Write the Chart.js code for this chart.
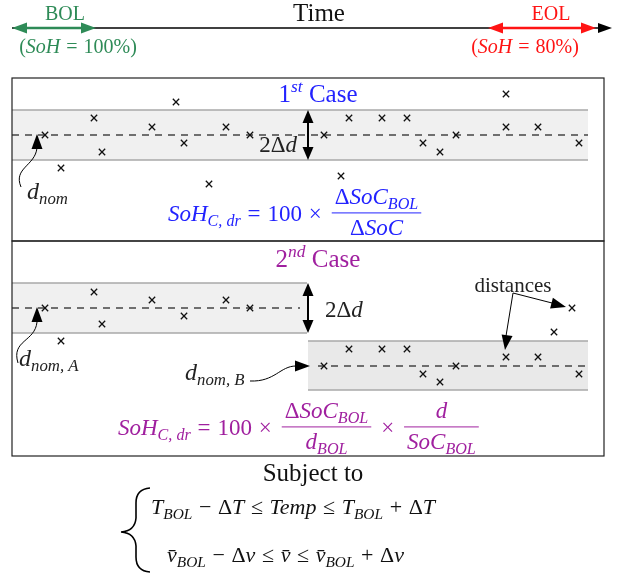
<!DOCTYPE html>
<html>
<head>
<meta charset="utf-8">
<script src="https://cdn.jsdelivr.net/npm/chart.js@4.4.1/dist/chart.umd.min.js"></script>
<style>
  html, body { margin: 0; padding: 0; background: #fff; }
  canvas { display: block; }
</style>
</head>
<body>
<canvas id="diagram" width="622" height="576"></canvas>
<script>
// measured samples (x = time position, y = distance), drawing units
const case1X = [176, 94, 152, 226, 45, 250, 184, 102, 61, 209, 506, 349, 382, 407, 506, 538, 324, 456, 423, 579, 440, 341];
const case1Y = [102, 118, 127, 127, 135, 135, 143, 152, 168, 184, 94, 118, 118, 118, 127, 127, 135, 135, 143, 143, 152, 176];
const case2AX = [94, 152, 226, 45, 250, 184, 102, 61];
const case2AY = [292, 300, 300, 308, 308, 316, 324, 341];
const case2BX = [349, 382, 407, 506, 538, 324, 456, 423, 579, 440, 572, 554];
const case2BY = [349, 349, 349, 357, 357, 366, 366, 374, 374, 382, 308, 332];

const BLUE = '#2323ff';
const PURPLE = '#a0209f';
const GREEN = '#2e8b57';
const RED = '#ff1414';
const SERIF = '"Liberation Serif", "DejaVu Serif", serif';

function pts(xs, ys) { return xs.map((x, i) => ({ x: x, y: ys[i] })); }

// --- small text helpers: segs = [[text, code]], code r/i/b(sub italic)/p(sup italic)/g(gap in em)
function segFont(c, size) {
  const it = c === 'i' || c === 'b' || c === 'p';
  const sz = (c === 'b' || c === 'p') ? size * 0.7 : size;
  return (it ? 'italic ' : '') + sz.toFixed(1) + 'px ' + SERIF;
}
function segDy(c, size) { return c === 'b' ? size * 0.22 : c === 'p' ? -size * 0.4 : 0; }
function segW(ctx, t, c, size) {
  if (c === 'g') return parseFloat(t) * size;
  ctx.font = segFont(c, size);
  return ctx.measureText(t).width;
}
function rowWidth(ctx, segs, size) {
  let w = 0;
  for (const [t, c] of segs) w += segW(ctx, t, c, size);
  return w;
}
function drawRow(ctx, segs, x, y, size, color, align) {
  const w = rowWidth(ctx, segs, size);
  let cx = align === 'center' ? x - w / 2 : align === 'right' ? x - w : x;
  ctx.fillStyle = color;
  ctx.textAlign = 'left';
  ctx.textBaseline = 'alphabetic';
  for (const [t, c] of segs) {
    const sw = segW(ctx, t, c, size);
    if (c !== 'g') ctx.fillText(t, cx, y + segDy(c, size));
    cx += sw;
  }
  return w;
}
function op(s) { return [['0.3', 'g'], [s, 'r'], ['0.3', 'g']]; }
function drawMath(ctx, items, x, y, size, color) {
  let cx = x;
  for (const it of items) {
    if (Array.isArray(it)) { cx += drawRow(ctx, it, cx, y, size, color, 'left'); continue; }
    const w = Math.max(rowWidth(ctx, it.num, size), rowWidth(ctx, it.den, size)) + 6;
    const axis = y - size * 0.33;
    ctx.strokeStyle = color; ctx.lineWidth = 1;
    ctx.beginPath(); ctx.moveTo(cx + 3, axis); ctx.lineTo(cx + w + 3, axis); ctx.stroke();
    drawRow(ctx, it.num, cx + 3 + w / 2, axis - size * 0.38, size, color, 'center');
    drawRow(ctx, it.den, cx + 3 + w / 2, axis + size * 0.95, size, color, 'center');
    cx += w + 6;
  }
}
function head(ctx, tx, ty, ang, len, half, color) {
  ctx.save();
  ctx.translate(tx, ty); ctx.rotate(ang);
  ctx.fillStyle = color;
  ctx.beginPath(); ctx.moveTo(0, 0); ctx.lineTo(-len, -half); ctx.lineTo(-len, half); ctx.closePath(); ctx.fill();
  ctx.restore();
}
function seg(ctx, x1, y1, x2, y2, color, lw) {
  ctx.strokeStyle = color; ctx.lineWidth = lw;
  ctx.beginPath(); ctx.moveTo(x1, y1); ctx.lineTo(x2, y2); ctx.stroke();
}

const sketch = {
  id: 'sketch',
  beforeDatasetsDraw(chart) {
    const ctx = chart.ctx;
    const X = v => chart.scales.x.getPixelForValue(v);
    const Y = v => chart.scales.y.getPixelForValue(v);
    ctx.save();
    // tolerance bands
    const bands = [[12, 588, 110, 160, '#f0f0f0'], [12, 307, 283, 333, '#f0f0f0'], [308, 588, 341, 390, '#e9e9e9']];
    for (const [a, b, t, u, f] of bands) {
      ctx.fillStyle = f;
      ctx.fillRect(X(a), Y(t), X(b) - X(a), Y(u) - Y(t));
      seg(ctx, X(a), Y(t), X(b), Y(t), '#a9a9a9', 1.5);
      seg(ctx, X(a), Y(u), X(b), Y(u), '#a9a9a9', 1.5);
    }
    // nominal distance lines
    ctx.setLineDash([7, 6]);
    seg(ctx, X(12), Y(135), X(588), Y(135), '#444', 1.4);
    seg(ctx, X(12), Y(308), X(300), Y(308), '#444', 1.4);
    seg(ctx, X(318), Y(366), X(588), Y(366), '#444', 1.4);
    ctx.setLineDash([]);
    ctx.restore();
  },
  afterDatasetsDraw(chart) {
    const ctx = chart.ctx;
    const X = v => chart.scales.x.getPixelForValue(v);
    const Y = v => chart.scales.y.getPixelForValue(v);
    ctx.save();

    // time axis
    seg(ctx, X(12), Y(28), X(600), Y(28), '#000', 1.3);
    head(ctx, X(612), Y(28), 0, 14, 5, '#000');
    seg(ctx, X(24), Y(28), X(84), Y(28), GREEN, 2.5);
    head(ctx, X(12), Y(28), Math.PI, 15, 5.5, GREEN);
    head(ctx, X(96), Y(28), 0, 15, 5.5, GREEN);
    seg(ctx, X(500), Y(28), X(584), Y(28), RED, 2.5);
    head(ctx, X(488), Y(28), Math.PI, 15, 5.5, RED);
    head(ctx, X(596), Y(28), 0, 15, 5.5, RED);
    drawRow(ctx, [['Time', 'r']], X(319), Y(21), 25, '#111', 'center');
    drawRow(ctx, [['BOL', 'r']], X(65), Y(20), 20, GREEN, 'center');
    drawRow(ctx, [['EOL', 'r']], X(551), Y(20), 20, RED, 'center');
    drawRow(ctx, [['(', 'r'], ['SoH', 'i'], ...op('='), ['100%)', 'r']], X(78), Y(53), 20, GREEN, 'center');
    drawRow(ctx, [['(', 'r'], ['SoH', 'i'], ...op('='), ['80%)', 'r']], X(525), Y(53), 20, RED, 'center');

    // case frames
    ctx.strokeStyle = '#222'; ctx.lineWidth = 1.2;
    ctx.strokeRect(X(12), Y(78), X(604) - X(12), Y(241) - Y(78));
    ctx.strokeRect(X(12), Y(241), X(604) - X(12), Y(456) - Y(241));

    // 1st case
    drawRow(ctx, [['1', 'r'], ['st', 'p'], [' Case', 'r']], X(318), Y(102), 25, BLUE, 'center');
    seg(ctx, X(308), Y(122), X(308), Y(148), '#000', 2);
    head(ctx, X(308), Y(110), -Math.PI / 2, 13, 5.5, '#000');
    head(ctx, X(308), Y(160), Math.PI / 2, 13, 5.5, '#000');
    drawRow(ctx, [['2Δ', 'r'], ['d', 'i']], X(297), Y(152), 23, '#222', 'right');
    drawRow(ctx, [['d', 'i'], ['nom', 'b']], X(27), Y(199), 24, '#222', 'left');
    ctx.strokeStyle = '#000'; ctx.lineWidth = 1;
    ctx.beginPath(); ctx.moveTo(X(21), Y(187));
    ctx.bezierCurveTo(X(13), Y(168), X(35), Y(166), X(37), Y(148)); ctx.stroke();
    head(ctx, X(37), Y(134), -Math.PI / 2, 15, 5.5, '#000');
    drawMath(ctx, [
      [['SoH', 'i'], ['C, dr', 'b'], ...op('='), ['100', 'r'], ...op('×')],
      { num: [['Δ', 'r'], ['SoC', 'i'], ['BOL', 'b']], den: [['Δ', 'r'], ['SoC', 'i']] }
    ], X(168), Y(220.5), 23, BLUE);

    // 2nd case
    drawRow(ctx, [['2', 'r'], ['nd', 'p'], [' Case', 'r']], X(318), Y(267), 25, PURPLE, 'center');
    seg(ctx, X(308), Y(295), X(308), Y(321), '#000', 2);
    head(ctx, X(308), Y(283), -Math.PI / 2, 13, 5.5, '#000');
    head(ctx, X(308), Y(333), Math.PI / 2, 13, 5.5, '#000');
    drawRow(ctx, [['2Δ', 'r'], ['d', 'i']], X(325), Y(317), 23, '#222', 'left');
    drawRow(ctx, [['d', 'i'], ['nom, A', 'b']], X(19), Y(366), 24, '#222', 'left');
    ctx.strokeStyle = '#000'; ctx.lineWidth = 1;
    ctx.beginPath(); ctx.moveTo(X(18), Y(363));
    ctx.bezierCurveTo(X(11), Y(340), X(35), Y(342), X(37), Y(322)); ctx.stroke();
    head(ctx, X(37), Y(307), -Math.PI / 2, 15, 5.5, '#000');
    drawRow(ctx, [['d', 'i'], ['nom, B', 'b']], X(185), Y(380), 24, '#222', 'left');
    ctx.beginPath(); ctx.moveTo(X(250), Y(381));
    ctx.bezierCurveTo(X(275), Y(382), X(280), Y(366), X(296), Y(366)); ctx.stroke();
    head(ctx, X(310), Y(366), 0, 15, 5.5, '#000');
    drawRow(ctx, [['distances', 'r']], X(513), Y(292), 21, '#222', 'center');
    seg(ctx, X(513), Y(293), X(506), Y(336), '#000', 1);
    head(ctx, X(505), Y(350), Math.atan2(57, -8), 15, 5.5, '#000');
    seg(ctx, X(513), Y(293), X(552), Y(303), '#000', 1);
    head(ctx, X(566), Y(307), Math.atan2(14, 53), 15, 5.5, '#000');
    drawMath(ctx, [
      [['SoH', 'i'], ['C, dr', 'b'], ...op('='), ['100', 'r'], ...op('×')],
      { num: [['Δ', 'r'], ['SoC', 'i'], ['BOL', 'b']], den: [['d', 'i'], ['BOL', 'b']] },
      [...op('×')],
      { num: [['d', 'i']], den: [['SoC', 'i'], ['BOL', 'b']] }
    ], X(118), Y(434.5), 23, PURPLE);

    // constraints
    drawRow(ctx, [['Subject to', 'r']], X(313), Y(481), 25, '#111', 'center');
    ctx.strokeStyle = '#000'; ctx.lineWidth = 1.6;
    ctx.beginPath();
    ctx.moveTo(X(150), Y(488));
    ctx.quadraticCurveTo(X(136), Y(489), X(136), Y(503));
    ctx.lineTo(X(136), Y(518));
    ctx.quadraticCurveTo(X(135), Y(531), X(121), Y(532));
    ctx.quadraticCurveTo(X(135), Y(533), X(136), Y(546));
    ctx.lineTo(X(136), Y(557));
    ctx.quadraticCurveTo(X(136), Y(571), X(150), Y(572));
    ctx.stroke();
    drawRow(ctx, [['T', 'i'], ['BOL', 'b'], ...op('−'), ['Δ', 'r'], ['T', 'i'], ...op('≤'), ['Temp', 'i'], ...op('≤'),
      ['T', 'i'], ['BOL', 'b'], ...op('+'), ['Δ', 'r'], ['T', 'i']], X(151), Y(514), 22, '#111', 'left');
    drawRow(ctx, [['v\u0304', 'i'], ['BOL', 'b'], ...op('−'), ['Δ', 'r'], ['v', 'i'], ...op('≤'), ['v\u0304', 'i'], ...op('≤'),
      ['v\u0304', 'i'], ['BOL', 'b'], ...op('+'), ['Δ', 'r'], ['v', 'i']], X(167), Y(562), 22, '#111', 'left');
    ctx.restore();
  }
};

const crossStyle = { pointStyle: 'crossRot', pointRadius: 4.5, borderColor: '#111', backgroundColor: '#111', borderWidth: 1.3, showLine: false };

new Chart(document.getElementById('diagram'), {
  type: 'scatter',
  data: {
    datasets: [
      Object.assign({ label: '1st case', data: pts(case1X, case1Y) }, crossStyle),
      Object.assign({ label: '2nd case A', data: pts(case2AX, case2AY) }, crossStyle),
      Object.assign({ label: '2nd case B', data: pts(case2BX, case2BY) }, crossStyle)
    ]
  },
  options: {
    responsive: false,
    animation: false,
    layout: { padding: 0, autoPadding: false },
    plugins: { legend: { display: false }, tooltip: { enabled: false } },
    scales: {
      x: { type: 'linear', min: 0, max: 622, display: false },
      y: { type: 'linear', min: 0, max: 576, reverse: true, display: false }
    }
  },
  plugins: [sketch]
});
</script>
</body>
</html>
